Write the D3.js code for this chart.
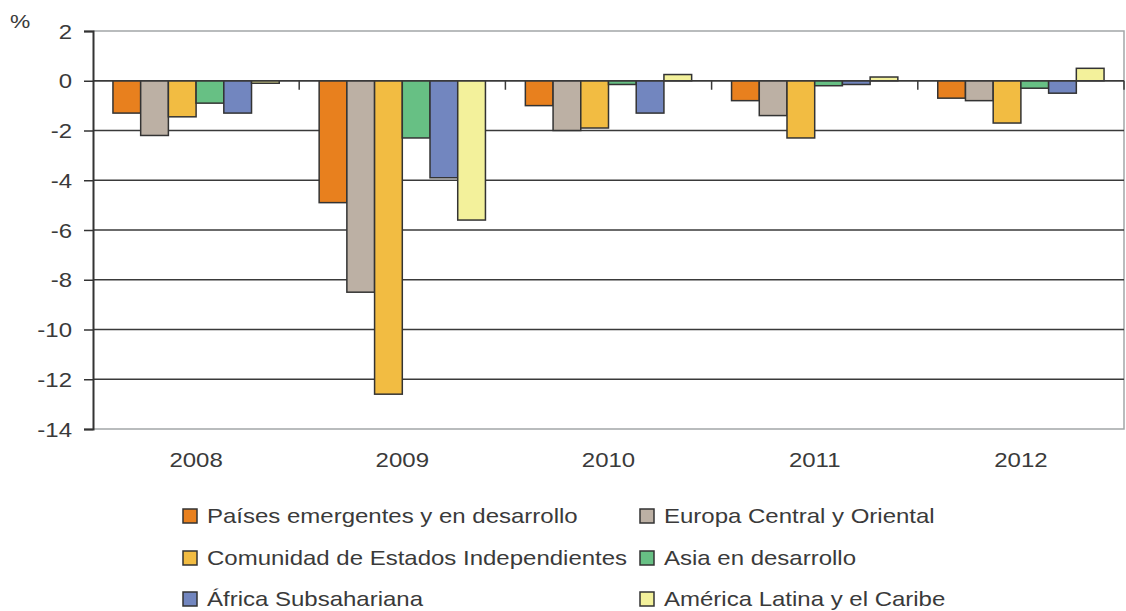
<!DOCTYPE html>
<html>
<head>
<meta charset="utf-8">
<script src="https://cdn.jsdelivr.net/npm/d3@7"></script>
<style>
  body { margin: 0; background: #fff; }
  svg text { font-family: "Liberation Sans", Arial, sans-serif; fill: #3a3a3a; }
</style>
</head>
<body>
<div id="chart"></div>
<script>
// data
const years = ['2008', '2009', '2010', '2011', '2012'];
const series = [
    'Países emergentes y en desarrollo',
    'Europa Central y Oriental',
    'Comunidad de Estados Independientes',
    'Asia en desarrollo',
    'África Subsahariana',
    'América Latina y el Caribe'
];
const colors = ['#e8801e', '#bcb0a4', '#f2bc42', '#67c084', '#7286bf', '#f3f19b'];
const values = [
    [-1.3, -4.9, -1.0, -0.8, -0.7],
    [-2.2, -8.5, -2.0, -1.4, -0.8],
    [-1.45, -12.6, -1.9, -2.3, -1.7],
    [-0.9, -2.3, -0.15, -0.2, -0.3],
    [-1.3, -3.9, -1.3, -0.15, -0.5],
    [-0.1, -5.6, 0.25, 0.15, 0.5]
];
const yTicks = [2, 0, -2, -4, -6, -8, -10, -12, -14];

const W = 1126, H = 611;
const margin = { left: 93, right: 1124, top: 31, bottom: 429 };
const stretch = 1.2;

const svg = d3.select('#chart').append('svg')
    .attr('width', W)
    .attr('height', H);

const y = d3.scaleLinear().domain([-14, 2]).range([margin.bottom, margin.top]);
const x0 = d3.scaleBand().domain(years).range([margin.left, margin.right]).padding(0);
const x1 = d3.scaleBand().domain(series).range([0, x0.bandwidth()])
    .paddingInner(0).paddingOuter(0.72);

// light frame (top, right, bottom)
svg.append('path')
    .attr('d', `M${margin.left},${y(2)}H${margin.right}V${y(-14)}H${margin.left}`)
    .attr('fill', 'none')
    .attr('stroke', '#a3a6a8')
    .attr('stroke-width', 1.5);

// gridlines
svg.append('g').selectAll('line')
    .data(yTicks.filter(d => d < 2 && d > -14))
    .join('line')
    .attr('x1', margin.left).attr('x2', margin.right)
    .attr('y1', d => y(d)).attr('y2', d => y(d))
    .attr('stroke', '#3a3a3a')
    .attr('stroke-width', 1.4);

// bars
const groups = svg.append('g').selectAll('g')
    .data(years)
    .join('g')
    .attr('transform', d => `translate(${x0(d)},0)`);

groups.selectAll('rect')
    .data((yr, i) => series.map((s, k) => ({ s, k, v: values[k][i] })))
    .join('rect')
    .attr('x', d => x1(d.s))
    .attr('width', x1.bandwidth())
    .attr('y', d => y(Math.max(0, d.v)))
    .attr('height', d => Math.abs(y(d.v) - y(0)))
    .attr('fill', d => colors[d.k])
    .attr('stroke', '#333')
    .attr('stroke-width', 1.5);

// zero line on top
svg.append('line')
    .attr('x1', margin.left).attr('x2', margin.right)
    .attr('y1', y(0)).attr('y2', y(0))
    .attr('stroke', '#3a3a3a')
    .attr('stroke-width', 1.4);

// category ticks on zero line
svg.append('g').selectAll('line')
    .data(years.map(d => x0(d) + x0.bandwidth()))
    .join('line')
    .attr('x1', d => d).attr('x2', d => d)
    .attr('y1', y(0)).attr('y2', y(0) + 9)
    .attr('stroke', '#3a3a3a')
    .attr('stroke-width', 1.5);

// y axis
const yAxis = svg.append('g')
    .attr('transform', `translate(${margin.left},0)`)
    .call(d3.axisLeft(y).tickValues(yTicks).tickSize(9).tickPadding(0).tickFormat(d => d));
yAxis.select('.domain').attr('stroke', '#333').attr('stroke-width', 2);
yAxis.selectAll('.tick line').attr('stroke', '#333').attr('stroke-width', 1.5);
yAxis.selectAll('.tick text')
    .attr('x', null)
    .attr('dy', null)
    .attr('transform', `translate(-21,7) scale(${stretch},1)`)
    .attr('font-size', 20)
    .attr('fill', '#3a3a3a');

svg.append('text')
    .attr('transform', `translate(10,28) scale(${stretch},1)`)
    .attr('font-size', 19)
    .text('%');

// x labels
svg.append('g').selectAll('text')
    .data(years)
    .join('text')
    .attr('transform', d => `translate(${x0(d) + x0.bandwidth() / 2},467) scale(${stretch},1)`)
    .attr('text-anchor', 'middle')
    .attr('font-size', 20)
    .text(d => d);

// legend
const legendPos = [[183, 516], [640, 516], [183, 558], [640, 558], [183, 599], [640, 599]];
const legend = svg.append('g').selectAll('g')
    .data(series)
    .join('g')
    .attr('transform', (d, i) => `translate(${legendPos[i][0]},${legendPos[i][1]})`);

legend.append('rect')
    .attr('x', 0).attr('y', -7)
    .attr('width', 14).attr('height', 14)
    .attr('fill', (d, i) => colors[i])
    .attr('stroke', '#333')
    .attr('stroke-width', 1.5);

legend.append('text')
    .attr('transform', `translate(24,7) scale(${stretch},1)`)
    .attr('font-size', 20)
    .text(d => d);
</script>
</body>
</html>
